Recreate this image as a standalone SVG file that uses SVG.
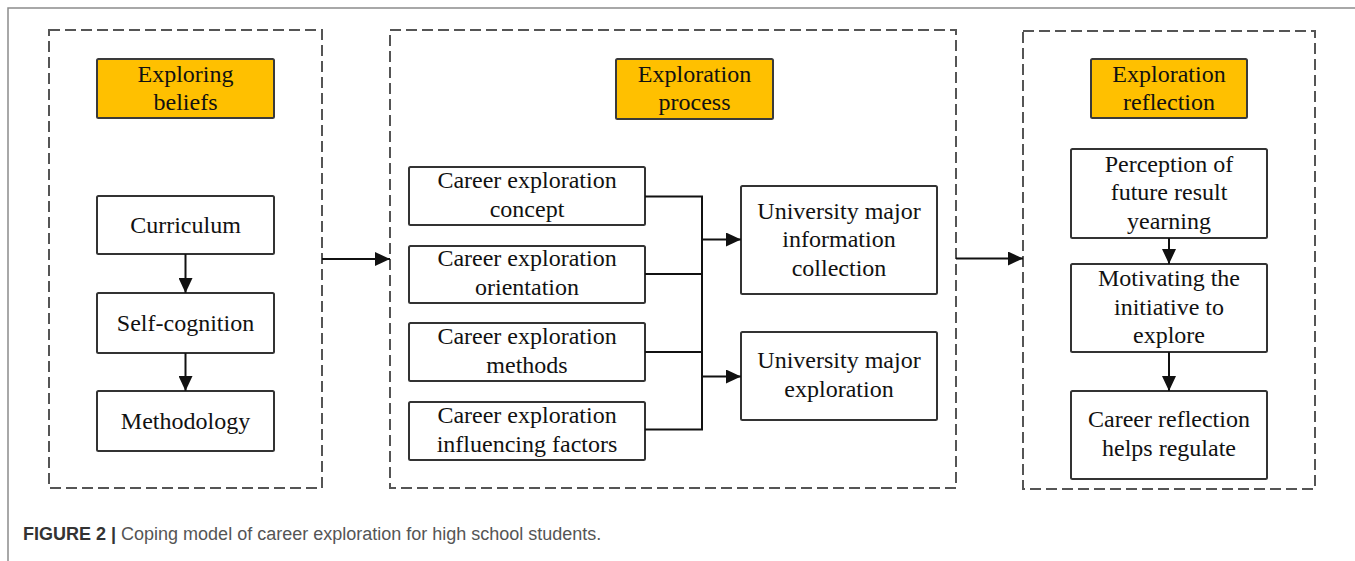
<svg xmlns="http://www.w3.org/2000/svg" width="1355" height="561" viewBox="0 0 1355 561">
  <style>
    .frame { fill: none; stroke: #8c8c8c; stroke-width: 1.5; }
    .stage { fill: none; stroke: #555; stroke-width: 2; stroke-dasharray: 11 5; }
    .head { fill: #FFC000; stroke: #3a3a3a; stroke-width: 2; }
    .box { fill: #fff; stroke: #333; stroke-width: 2; }
    .lbl { font-family: "Liberation Serif", "Times New Roman", serif; font-size: 24px; fill: #111; text-anchor: middle; }
    .wire { fill: none; stroke: #111; stroke-width: 2; }
    .cap { font-family: "Liberation Sans", Arial, sans-serif; font-size: 18px; fill: #555; }
    .capb { font-weight: bold; fill: #333; }
  </style>
  <defs>
    <marker id="tip" markerUnits="userSpaceOnUse" markerWidth="15" markerHeight="14" refX="15" refY="7" orient="auto">
      <path d="M0,0 L15,7 L0,14 Z" fill="#111"/>
    </marker>
  </defs>

  <rect width="1355" height="561" fill="#fff"/>
  <!-- page frame: top and left rule -->
  <path class="frame" d="M8,561 V8 H1355"/>

  <!-- stage 1: exploring beliefs -->
  <g id="stage-beliefs">
    <rect class="stage" x="49" y="30" width="273" height="458"/>
    <g id="head-beliefs">
      <rect class="head" x="97" y="59" width="177" height="59" rx="1.5"/>
      <text class="lbl" x="185.5" y="82">Exploring</text>
      <text class="lbl" x="185.5" y="110">beliefs</text>
    </g>
    <g id="node-curriculum">
      <rect class="box" x="97" y="196" width="177" height="58" rx="1.5"/>
      <text class="lbl" x="185.5" y="233">Curriculum</text>
    </g>
    <g id="node-selfcognition">
      <rect class="box" x="97" y="293" width="177" height="60" rx="1.5"/>
      <text class="lbl" x="185.5" y="331">Self-cognition</text>
    </g>
    <g id="node-methodology">
      <rect class="box" x="97" y="391" width="177" height="60" rx="1.5"/>
      <text class="lbl" x="185.5" y="429">Methodology</text>
    </g>
  </g>

  <!-- stage 2: exploration process -->
  <g id="stage-process">
    <rect class="stage" x="390" y="30" width="566" height="458"/>
    <g id="head-process">
      <rect class="head" x="616" y="59" width="157" height="60" rx="1.5"/>
      <text class="lbl" x="694.5" y="82">Exploration</text>
      <text class="lbl" x="694.5" y="110">process</text>
    </g>
    <g id="node-concept">
      <rect class="box" x="409" y="167" width="236" height="58" rx="1.5"/>
      <text class="lbl" x="527" y="188">Career exploration</text>
      <text class="lbl" x="527" y="216.5">concept</text>
    </g>
    <g id="node-orientation">
      <rect class="box" x="409" y="246" width="236" height="57" rx="1.5"/>
      <text class="lbl" x="527" y="266">Career exploration</text>
      <text class="lbl" x="527" y="294.5">orientation</text>
    </g>
    <g id="node-methods">
      <rect class="box" x="409" y="323" width="236" height="58" rx="1.5"/>
      <text class="lbl" x="527" y="344">Career exploration</text>
      <text class="lbl" x="527" y="372.5">methods</text>
    </g>
    <g id="node-factors">
      <rect class="box" x="409" y="402" width="236" height="58" rx="1.5"/>
      <text class="lbl" x="527" y="423">Career exploration</text>
      <text class="lbl" x="527" y="451.5">influencing factors</text>
    </g>
    <g id="node-info">
      <rect class="box" x="741" y="186" width="196" height="108" rx="1.5"/>
      <text class="lbl" x="839" y="218.5">University major</text>
      <text class="lbl" x="839" y="247">information</text>
      <text class="lbl" x="839" y="275.5">collection</text>
    </g>
    <g id="node-majorexp">
      <rect class="box" x="741" y="332" width="196" height="88" rx="1.5"/>
      <text class="lbl" x="839" y="368">University major</text>
      <text class="lbl" x="839" y="396.5">exploration</text>
    </g>
  </g>

  <!-- stage 3: exploration reflection -->
  <g id="stage-reflection">
    <rect class="stage" x="1023" y="31" width="292" height="458"/>
    <g id="head-reflection">
      <rect class="head" x="1091" y="59" width="156" height="59" rx="1.5"/>
      <text class="lbl" x="1169" y="82">Exploration</text>
      <text class="lbl" x="1169" y="110">reflection</text>
    </g>
    <g id="node-perception">
      <rect class="box" x="1071" y="149" width="196" height="89" rx="1.5"/>
      <text class="lbl" x="1169" y="171.5">Perception of</text>
      <text class="lbl" x="1169" y="200">future result</text>
      <text class="lbl" x="1169" y="228.5">yearning</text>
    </g>
    <g id="node-motivating">
      <rect class="box" x="1071" y="264" width="196" height="88" rx="1.5"/>
      <text class="lbl" x="1169" y="286">Motivating the</text>
      <text class="lbl" x="1169" y="314.5">initiative to</text>
      <text class="lbl" x="1169" y="343">explore</text>
    </g>
    <g id="node-regulate">
      <rect class="box" x="1071" y="391" width="196" height="88" rx="1.5"/>
      <text class="lbl" x="1169" y="427">Career reflection</text>
      <text class="lbl" x="1169" y="455.5">helps regulate</text>
    </g>
  </g>

  <!-- connectors -->
  <g id="connectors">
    <path class="wire" d="M185.5,254 V293" marker-end="url(#tip)"/>
    <path class="wire" d="M185.5,353 V391" marker-end="url(#tip)"/>
    <path class="wire" d="M322,259 H390" marker-end="url(#tip)"/>
    <path class="wire" d="M645,196.5 H702 V429.5 H645"/>
    <path class="wire" d="M645,274 H702"/>
    <path class="wire" d="M645,352 H702"/>
    <path class="wire" d="M702,239.5 H741" marker-end="url(#tip)"/>
    <path class="wire" d="M702,376.5 H741" marker-end="url(#tip)"/>
    <path class="wire" d="M956,258.5 H1023" marker-end="url(#tip)"/>
    <path class="wire" d="M1169,238 V264" marker-end="url(#tip)"/>
    <path class="wire" d="M1169,352 V391" marker-end="url(#tip)"/>
  </g>

  <text class="cap" x="23" y="540"><tspan class="capb">FIGURE 2 |</tspan> Coping model of career exploration for high school students.</text>
</svg>
